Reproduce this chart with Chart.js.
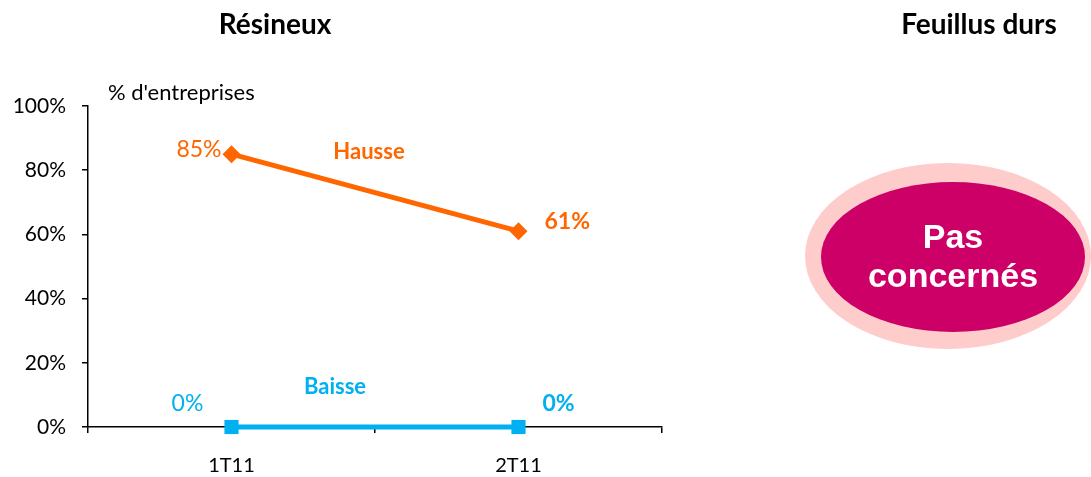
<!DOCTYPE html>
<html>
<head>
<meta charset="utf-8">
<script src="https://cdn.jsdelivr.net/npm/chart.js@4/dist/chart.umd.min.js"></script>
<style>
  html, body { margin: 0; padding: 0; background: #fff; }
  #wrap { width: 1091px; height: 477px; position: relative; }
</style>
</head>
<body>
<div id="wrap"><canvas id="myChart" width="1091" height="477"></canvas></div>
<script>
var categories = ['1T11', '2T11'];
var hausse = [85, 61];
var baisse = [0, 0];
var yTicks = [0, 20, 40, 60, 80, 100];

var orange = '#FF6600';
var blue = '#00B0F0';

// titles, series labels, value labels and the "Pas concernés" badge
var extras = {
  id: 'extras',
  afterDraw: function(chart) {
    var ctx = chart.ctx;
    var x = chart.scales.x;
    var y = chart.scales.y;
    ctx.save();
    ctx.textBaseline = 'middle';

    ctx.fillStyle = '#000';
    ctx.textAlign = 'center';
    ctx.font = 'bold 28px Lato';
    ctx.fillText('Résineux', 275, 25);
    ctx.fillText('Feuillus durs', 979, 25);

    ctx.textAlign = 'left';
    ctx.font = '22px Lato';
    ctx.fillText("% d'entreprises", 108, 93);

    var x0 = x.getPixelForValue(0), x1 = x.getPixelForValue(1);
    var xm = (x0 + x1) / 2;

    // Hausse
    ctx.fillStyle = orange;
    ctx.font = '23px Lato';
    ctx.textAlign = 'right';
    ctx.fillText(hausse[0] + '%', x0 - 10, y.getPixelForValue(hausse[0]) - 5);
    ctx.font = 'bold 23px Lato';
    ctx.textAlign = 'left';
    ctx.fillText(hausse[1] + '%', x1 + 26, y.getPixelForValue(hausse[1]) - 10);
    ctx.textAlign = 'center';
    ctx.font = 'bold 22px Lato';
    ctx.fillText('Hausse', xm - 6, y.getPixelForValue((hausse[0] + hausse[1]) / 2) - 41);

    // Baisse
    ctx.fillStyle = blue;
    ctx.font = '23px Lato';
    ctx.textAlign = 'center';
    ctx.fillText(baisse[0] + '%', x0 - 44, y.getPixelForValue(baisse[0]) - 23);
    ctx.font = 'bold 23px Lato';
    ctx.fillText(baisse[1] + '%', x1 + 40, y.getPixelForValue(baisse[1]) - 23);
    ctx.font = 'bold 22px Lato';
    ctx.fillText('Baisse', xm - 40, y.getPixelForValue(baisse[0]) - 40);

    // badge
    ctx.fillStyle = '#FFCCCC';
    ctx.beginPath();
    ctx.ellipse(948, 256, 143, 93, 0, 0, Math.PI * 2);
    ctx.fill();
    ctx.fillStyle = '#CC0066';
    ctx.beginPath();
    ctx.ellipse(953, 257, 132, 75, 0, 0, Math.PI * 2);
    ctx.fill();
    ctx.fillStyle = '#fff';
    ctx.font = 'bold 34px "Liberation Sans"';
    ctx.textAlign = 'center';
    ctx.fillText('Pas', 953, 239);
    ctx.fillText('concernés', 953, 278);
    ctx.restore();
  }
};

function getChart() {
  var ctx = document.getElementById('myChart').getContext('2d');
  var myChart = new Chart(ctx, {
    type: 'line',
    data: {
      labels: categories,
      datasets: [{
        label: 'Hausse',
        data: hausse,
        borderColor: orange,
        backgroundColor: orange,
        borderWidth: 5,
        pointStyle: 'rectRot',
        pointRadius: 9,
        pointBackgroundColor: orange,
        pointBorderWidth: 0,
        clip: false
      }, {
        label: 'Baisse',
        data: baisse,
        borderColor: blue,
        backgroundColor: blue,
        borderWidth: 5,
        pointStyle: 'rect',
        pointRadius: 10,
        pointBackgroundColor: blue,
        pointBorderWidth: 0,
        clip: false
      }]
    },
    options: {
      responsive: false,
      animation: false,
      layout: { padding: { left: 0, right: 429, top: 106, bottom: 0 } },
      plugins: {
        legend: { display: false },
        tooltip: { enabled: false }
      },
      scales: {
        x: {
          offset: true,
          grid: { offset: true, drawOnChartArea: false, drawTicks: true, tickLength: 6, color: '#000', lineWidth: 1.5 },
          border: { display: true, color: '#000', width: 1.5 },
          ticks: { color: '#000', font: { family: 'Lato', size: 20 }, padding: 21 },
          afterFit: function(s) { s.height = 50; }
        },
        y: {
          min: 0,
          max: 100,
          afterBuildTicks: function(s) { s.ticks = yTicks.map(function(v) { return { value: v }; }); },
          grid: { drawOnChartArea: false, drawTicks: true, tickLength: 6, color: '#000', lineWidth: 1.5 },
          border: { display: true, color: '#000', width: 1.5 },
          ticks: {
            color: '#000',
            font: { family: 'Lato', size: 21 },
            padding: 16,
            callback: function(v) { return v + '%'; }
          },
          afterFit: function(s) { s.width = 88; }
        }
      }
    },
    plugins: [extras]
  });
}

getChart();
</script>
</body>
</html>
